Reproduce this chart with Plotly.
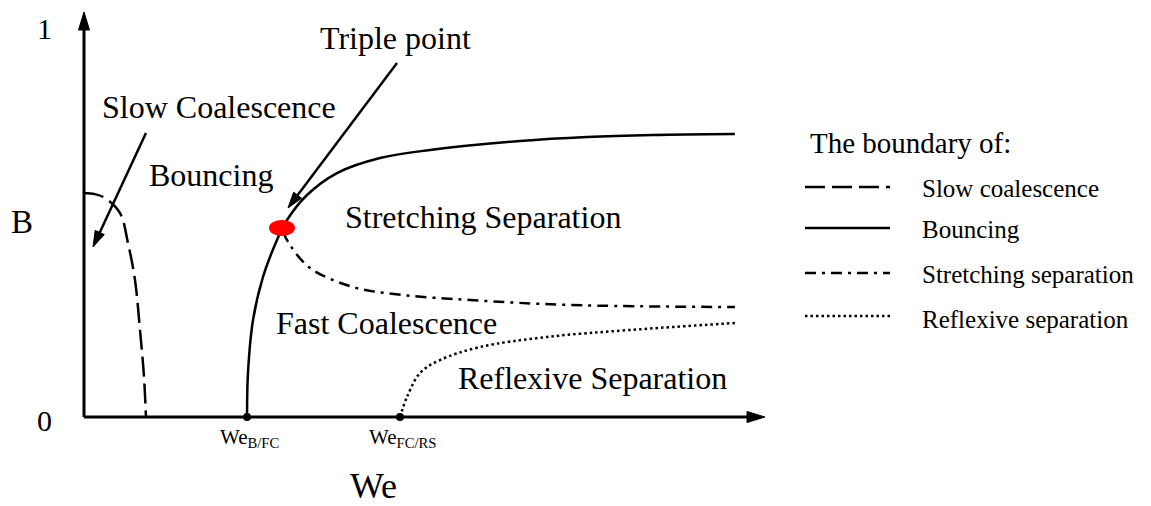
import numpy as np
import plotly.graph_objects as go

# ---------------- data (We normalised to the axis length, B in 0..1) ----------------
slow_we = [0.0, 0.0160, 0.0308, 0.0529, 0.0646, 0.0749, 0.0822, 0.0881, 0.0910]
slow_b = [0.576, 0.573, 0.563, 0.524, 0.447, 0.352, 0.224, 0.103, 0.0]

bounce_we = [0.2394, 0.2408, 0.2482, 0.2628, 0.2834, 0.2981, 0.3275, 0.3715,
             0.4347, 0.5081, 0.6402, 0.7386, 0.8355, 0.9559]
bounce_b = [0.0, 0.1131, 0.2494, 0.3599, 0.4550, 0.5064, 0.5707, 0.6272,
            0.6658, 0.6864, 0.7095, 0.7198, 0.7249, 0.7275]

stretch_we = [0.2922, 0.3025, 0.3319, 0.3950, 0.4684, 0.5668, 0.7137, 0.9559]
stretch_b = [0.4756, 0.4422, 0.3830, 0.3342, 0.3136, 0.3008, 0.2879, 0.2828]

reflex_we = [0.4640, 0.4743, 0.4934, 0.5228, 0.5815, 0.6799, 0.8018, 0.9559]
reflex_b = [0.0, 0.0514, 0.1131, 0.1465, 0.1799, 0.2057, 0.2237, 0.2416]

critical_we = [0.2394, 0.4640]
critical_labels = ["We<sub>B/FC</sub>", "We<sub>FC/RS</sub>"]

triple_point = (0.2907, 0.4859)

regime_labels = ["Slow Coalescence", "Bouncing", "Triple point",
                 "Stretching Separation", "Fast Coalescence", "Reflexive Separation"]
regime_pos = [(0.1982, 0.7969), (0.1865, 0.6221), (0.4581, 0.9743),
              (0.5859, 0.5141), (0.4435, 0.2416), (0.7460, 0.1003)]

legend_title = "The boundary of:"
legend_names = ["Slow coalescence", "Bouncing", "Stretching separation", "Reflexive separation"]
legend_dash = ["20px,7px", "solid", "11px,6px,3px,6px", "2.5px,3px"]

# ---------------- layout geometry ----------------
FIG_W, FIG_H = 1151, 506
ORIGIN_PX = (84, 417)          # pixel position of (0, 0)
PX_X, PX_Y = 681.0, 389.0      # pixels per data unit
X_END = 1.0                    # tip of the We axis arrow
Y_END = (417 - 12) / PX_Y      # tip of the B axis arrow

x_range = [-ORIGIN_PX[0] / PX_X, (FIG_W - ORIGIN_PX[0]) / PX_X]
y_range = [-(FIG_H - ORIGIN_PX[1]) / PX_Y, ORIGIN_PX[1] / PX_Y]

FONT = "Liberation Serif, Times New Roman, serif"
BLACK = "#000000"

fig = go.Figure()


def arrow(tail, tip, head_len=16, head_w=10, width=2.5):
    """Straight arrow with a filled triangular head, sized in pixels."""
    dx = (tip[0] - tail[0]) * PX_X
    dy = (tip[1] - tail[1]) * PX_Y
    n = np.hypot(dx, dy)
    ux, uy = dx / n, dy / n
    bx = tip[0] - ux * head_len / PX_X
    by = tip[1] - uy * head_len / PX_Y
    px, py = -uy, ux
    # shaft ends a little inside the head so the join is hidden
    sx = tip[0] - ux * (head_len - 3) / PX_X
    sy = tip[1] - uy * (head_len - 3) / PX_Y
    fig.add_trace(go.Scatter(x=[tail[0], sx], y=[tail[1], sy], mode="lines",
                             line=dict(color=BLACK, width=width),
                             hoverinfo="skip", showlegend=False))
    hx = [tip[0], bx + px * head_w / 2 / PX_X, bx - px * head_w / 2 / PX_X, tip[0]]
    hy = [tip[1], by + py * head_w / 2 / PX_Y, by - py * head_w / 2 / PX_Y, tip[1]]
    fig.add_trace(go.Scatter(x=hx, y=hy, mode="lines", fill="toself",
                             fillcolor=BLACK, line=dict(color=BLACK, width=1),
                             hoverinfo="skip", showlegend=False))


# axes drawn as arrows
arrow((0, 0), (0, Y_END), head_len=18, head_w=11, width=3)
arrow((0, 0), (X_END, 0), head_len=18, head_w=11, width=3)

# regime boundaries
curve_style = dict(mode="lines", line_shape="spline", hoverinfo="skip", showlegend=False)
fig.add_trace(go.Scatter(x=slow_we, y=slow_b, line=dict(color=BLACK, width=2.5, dash=legend_dash[0],
                                                         smoothing=1.0), **curve_style))
fig.add_trace(go.Scatter(x=bounce_we, y=bounce_b, line=dict(color=BLACK, width=2.5,
                                                             smoothing=1.0), **curve_style))
fig.add_trace(go.Scatter(x=stretch_we, y=stretch_b, line=dict(color=BLACK, width=2.5, dash=legend_dash[2],
                                                               smoothing=1.0), **curve_style))
fig.add_trace(go.Scatter(x=reflex_we, y=reflex_b, line=dict(color=BLACK, width=2.5, dash=legend_dash[3],
                                                             smoothing=1.0), **curve_style))

# critical Weber numbers on the axis
fig.add_trace(go.Scatter(x=critical_we, y=[0, 0], mode="markers",
                         marker=dict(color=BLACK, size=8), hoverinfo="skip", showlegend=False))

# pointer arrows
arrow((0.0910, 0.7301), (0.0132, 0.4370))
arrow((0.4596, 0.9100), (0.2996, 0.5373))

# triple point
fig.add_shape(type="circle", xref="x", yref="y",
              x0=triple_point[0] - 13 / PX_X, x1=triple_point[0] + 13 / PX_X,
              y0=triple_point[1] - 8 / PX_Y, y1=triple_point[1] + 8 / PX_Y,
              fillcolor="#ff0000", line=dict(color="#ff0000", width=0), layer="above")

# custom legend line samples
legend_y = [0.5913, 0.4859, 0.3702, 0.2596]
for dash, ly in zip(legend_dash, legend_y):
    fig.add_trace(go.Scatter(x=[1.0587, 1.1836], y=[ly, ly], mode="lines",
                             line=dict(color=BLACK, width=2.5, dash=dash),
                             hoverinfo="skip", showlegend=False))

annotations = []


def label(text, x, y, size, xanchor="center"):
    annotations.append(dict(text=text, x=x, y=y, xref="x", yref="y", showarrow=False,
                            xanchor=xanchor, yanchor="middle",
                            font=dict(family=FONT, size=size, color=BLACK)))


for t, (lx, ly) in zip(regime_labels, regime_pos):
    label(t, lx, ly, 32)

label("1", -0.0573, 1.0, 30)
label("0", -0.0573, -0.0077, 30)
label("B", -0.0910, 0.5013, 33)
label("We", 0.4258, -0.1770, 36)
for we, t in zip(critical_we, critical_labels):
    label(t, we + 0.003, -0.0540, 21)

label(legend_title, 1.0631, 0.7044, 29, xanchor="left")
legend_text_y = [0.5887, 0.4833, 0.3676, 0.2519]
for name, ly in zip(legend_names, legend_text_y):
    label(name, 1.2276, ly, 25, xanchor="left")

fig.update_layout(
    width=FIG_W, height=FIG_H,
    margin=dict(l=0, r=0, t=0, b=0),
    paper_bgcolor="white", plot_bgcolor="white",
    xaxis=dict(range=x_range, visible=False, fixedrange=True),
    yaxis=dict(range=y_range, visible=False, fixedrange=True),
    annotations=annotations,
    showlegend=False,
)

fig.write_html("out.html")
